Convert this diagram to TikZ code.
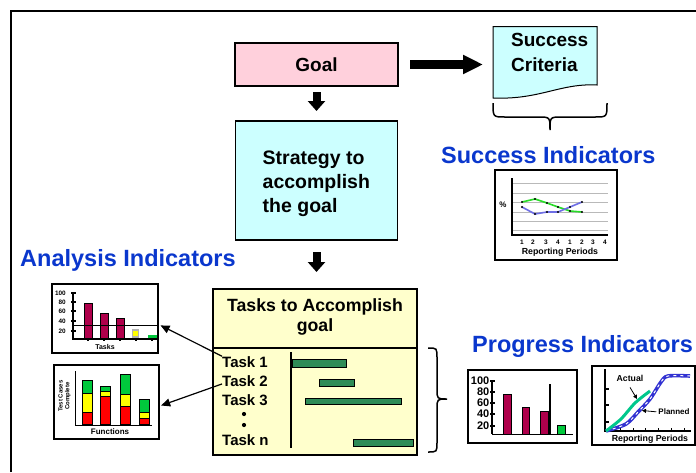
\documentclass[tikz,border=0pt]{standalone}
\usepackage{fontspec}
\setmainfont{Liberation Sans}
\usetikzlibrary{arrows.meta}
\definecolor{goalpink}{RGB}{255,208,220}
\definecolor{lcyan}{RGB}{204,255,255}
\definecolor{lyellow}{RGB}{255,255,204}
\definecolor{tblue}{RGB}{10,55,205}
\definecolor{crimson}{RGB}{175,0,75}
\definecolor{gantt}{RGB}{46,139,87}
\definecolor{cgreen}{RGB}{0,200,60}
\definecolor{cyellow}{RGB}{255,255,0}
\definecolor{cred}{RGB}{255,0,0}
\definecolor{lgreen}{RGB}{40,220,40}
\definecolor{lblue}{RGB}{110,110,230}
\definecolor{actteal}{RGB}{0,200,140}
\definecolor{pblue}{RGB}{50,50,210}
\newcommand{\fs}[1]{\fontsize{#1}{#1}\selectfont\bfseries}
\begin{document}
\begin{tikzpicture}[x=1pt,y=-1pt,
  box/.style={draw, line width=1.2pt, inner sep=0pt},
  chart/.style={draw, line width=1.5pt, fill=white, inner sep=0pt},
  bigarrow/.style={line width=9pt, -{Triangle[length=20pt,width=18pt]}},
  downarrow/.style={line width=8pt, -{Triangle[length=10pt,width=17pt]}},
  heading/.style={text=tblue, font=\fontsize{23.5}{28}\selectfont\bfseries, anchor=base west, inner sep=0pt},
  tasklbl/.style={font=\fs{15}, anchor=base west, inner sep=0pt},
  ganttbar/.style={draw, fill=gantt, line width=0.9pt},
  conn/.style={line width=1.2pt, -{Triangle[length=9pt,width=8pt]}},
  smallarr/.style={line width=0.8pt, -{Triangle[length=4pt,width=4pt]}},
  lbl/.style={inner sep=0pt},
  crbar/.style={draw=black, fill=crimson, line width=0.7pt},
  stk/.style={draw=black, line width=0.7pt}
]
\useasboundingbox (0,0) rectangle (696,472);
% outer frame
\draw[line width=2pt] (11,472) -- (11,11) -- (696,11);

% Goal
\node[box, fill=goalpink, minimum width=163pt, minimum height=43pt] (goal) at (316.5,64.5) {\fs{19}Goal};

% Success criteria document
\draw[fill=lcyan, line width=1pt] (493,26.5) -- (597,26.5) -- (597,85) .. controls (560,83) and (540,100) .. (493,98) -- cycle;
\node[align=left, anchor=north west, inner sep=0pt, font=\fontsize{19}{25}\selectfont\bfseries] (sc) at (511,33.5) {Success\\Criteria};
\coordinate (scw) at (493,64.5);
\draw[bigarrow, shorten <=11.4pt, shorten >=10pt] (goal.east) -- (scw);

% brace under success criteria
\draw[line width=1.5pt] (493,103) .. controls (493,117) .. (505,117) -- (538,117) .. controls (550,117) .. (550,130) .. controls (550,117) .. (562,117) -- (595,117) .. controls (607,117) .. (607,103);

% Strategy
\node[box, fill=lcyan, minimum width=162pt, minimum height=119pt] (strat) at (316.5,180.5) {};
\node[align=left, anchor=north west, inner sep=0pt, font=\fontsize{19.5}{24}\selectfont\bfseries] (strattext) at (262.5,150.5) {Strategy to\\accomplish\\the goal};
\draw[downarrow, shorten <=5.4pt, shorten >=9.4pt] (goal.south) -- (strat.north);

% Tasks box
\node[box, fill=lyellow, minimum width=204pt, minimum height=166pt] (tasks) at (315,372) {};
\draw[downarrow, shorten <=11.4pt, shorten >=16.4pt] (strat.south) -- (strat.south |- tasks.north);
\node[align=center, anchor=north, inner sep=0pt, font=\fontsize{17.7}{20}\selectfont\bfseries] (ttitle) at (315,298) {Tasks to Accomplish\\goal};
\draw[line width=2pt] (213,348) -- (417,348);
\draw[line width=1.5pt] (291,352) -- (291,448);
\node[tasklbl] (t1) at (222,367.3) {Task 1};
\node[tasklbl] (t2) at (222,386.3) {Task 2};
\node[tasklbl] (t3) at (222,405.3) {Task 3};
\node[tasklbl] (tn) at (222,445) {Task n};
\fill (244,414) circle (2.1);
\fill (244,425) circle (2.1);
\draw[ganttbar] (292,359) rectangle (346,367);
\draw[ganttbar] (319,379) rectangle (354,386);
\draw[ganttbar] (305,398) rectangle (401,404.5);
\draw[ganttbar] (353,439) rectangle (413,446);

% right brace
\draw[line width=1.5pt] (428,348) .. controls (437,348) .. (437,358) -- (437,389) .. controls (437,399) .. (447,399) .. controls (437,399) .. (437,409) -- (437,442) .. controls (437,452) .. (428,452);

% headings
\node[heading] (ai) at (20,266) {Analysis Indicators};
\node[heading] (si) at (441,163) {Success Indicators};
\node[heading] (pi) at (472,352.5) {Progress Indicators};

% ---------- Success chart
\node[chart, minimum width=122pt, minimum height=90pt] (sch) at (556,215) {};
\foreach \y in {183,193,202,212,221,230} \draw[gray!55, line width=0.8pt] (512,\y) -- (608,\y);
\draw[line width=1.5pt] (512,178) -- (512,235) -- (608,235);
\foreach \x in {522,533,546,558,570,582,593,605} \fill (\x-1.3,233.7) rectangle (\x+1.3,236.3);
\foreach \x/\l [count=\i] in {522/1,533/2,546/3,558/4,570/1,582/2,593/3,605/4}
  \node[lbl, font=\fs{6.5}] (sl\i) at (\x,242.5) {\l};
\node[lbl, font=\fs{8.8}] (rp1) at (560,252.5) {Reporting Periods};
\node[lbl, font=\fs{8}] (pct) at (503,205) {\%};
\draw[lgreen, line width=1.6pt] plot coordinates {(522,202) (535,199) (547,203) (558,207) (570,211) (582,212)};
\draw[lblue, line width=1.6pt] plot coordinates {(522,207) (535,214) (547,212) (558,212) (570,207) (582,202)};
\foreach \p in {(522,202),(535,199),(547,203),(558,207),(570,211),(582,212),(522,207),(535,214),(547,212),(558,212),(570,207),(582,202)}
  \fill \p circle (1.1);

% ---------- Analysis chart 1
\node[chart, minimum width=106pt, minimum height=69pt] (an1) at (105,318.5) {};
\draw[crbar] (84,303) rectangle (92,339);
\draw[crbar] (100,313) rectangle (108,339);
\draw[crbar] (116,318) rectangle (124,339);
\draw[draw=gray!60, fill=cyellow, line width=1.5pt] (132.5,330) rectangle (138.5,337);
\fill[cgreen] (148,334.5) rectangle (157,339);
\draw[line width=1pt] (73,325) -- (157,325);
\draw[line width=1.5pt] (73,293) -- (73,339) -- (157,339);
\foreach \y/\l in {293/100,302/80,311/60,321/40,331/20} {
  \fill (70.5,\y-1.3) rectangle (75.5,\y+1.3);
  \node[lbl, anchor=east, font=\fs{6.4}] (al\l) at (66,\y) {\l};
}
\foreach \x in {88,104,120,136,152} \fill (\x-1.2,337.5) rectangle (\x+1.2,341);
\node[lbl, font=\fs{7}] (tk) at (105,346.5) {Tasks};
\draw[conn, shorten >=2pt] (t1.north west) -- ([yshift=-6pt]an1.east);

% ---------- Analysis chart 2
\node[chart, minimum width=105pt, minimum height=74pt] (an2) at (106.5,402) {};
\draw[line width=0.8pt] (75,371) -- (75,425) -- (152,425);
\draw[stk, fill=cred] (82,412) rectangle (92,424);
\draw[stk, fill=cyellow] (82,393) rectangle (92,412);
\draw[stk, fill=cgreen] (82,380) rectangle (92,393);
\draw[stk, fill=cred] (100,396) rectangle (110,424);
\draw[stk, fill=cyellow] (100,391) rectangle (110,396);
\draw[stk, fill=cgreen] (100,386) rectangle (110,391);
\draw[stk, fill=cred] (120,406) rectangle (130,424);
\draw[stk, fill=cyellow] (120,394) rectangle (130,406);
\draw[stk, fill=cgreen] (120,374) rectangle (130,394);
\draw[stk, fill=cred] (139,418) rectangle (149,424);
\draw[stk, fill=cyellow] (139,412) rectangle (149,418);
\draw[stk, fill=cgreen] (139,399) rectangle (149,412);
\node[lbl, rotate=90, align=center, font=\fontsize{6}{6.8}\selectfont\bfseries] (tcc) at (64.5,396) {Test Cases\\Complete};
\node[lbl, font=\fs{8}] (fn) at (110,432) {Functions};
\draw[conn, shorten >=1.5pt] ([yshift=-3pt]t2.west) -- ([yshift=-4pt]an2.east);

% ---------- Progress chart 1
\node[chart, minimum width=109pt, minimum height=73pt] (pr1) at (522.5,406.5) {};
\draw[crbar] (503,394) rectangle (511,434);
\draw[crbar] (522,407) rectangle (529,434);
\draw[crbar] (540,411) rectangle (548,434);
\draw[draw=black, fill=cgreen, line width=0.7pt] (557,425) rectangle (565,434);
\draw[line width=1.5pt] (550,384) -- (550,434);
\draw[line width=1.5pt] (492,380) -- (492,434);
\draw[line width=1pt] (492,434) -- (573,434);
\foreach \y/\l in {381/100,392/80,403/60,414/40,426/20} {
  \draw[line width=1.5pt] (490,\y) -- (495,\y);
  \node[lbl, anchor=east, font=\fs{11}] (pl\l) at (489.5,\y) {\l};
}

% ---------- Progress chart 2
\node[chart, minimum width=103pt, minimum height=79pt] (pr2) at (643.5,405.5) {};
\draw[line width=1.2pt] (605,369) -- (605,431) -- (691,431);
\foreach \y in {389,405,422} \draw[line width=1.2pt] (605,\y) -- (608.5,\y);
\foreach \x in {620,633,645,658,671,684} \draw[line width=1pt] (\x,431) -- (\x,428);
\draw[pblue, line width=3.6pt] plot[smooth, tension=0.5] coordinates {(606,431) (626,424) (638,412) (650,399) (661,382) (668,376) (690,376)};
\draw[white, line width=1pt, dash pattern=on 3pt off 4pt] plot[smooth, tension=0.5] coordinates {(606,431) (626,424) (638,412) (650,399) (661,382) (668,376) (690,376)};
\draw[actteal, line width=3pt] plot[smooth, tension=0.5] coordinates {(606,431) (621,419) (635,403) (650,391)};
\node[lbl, font=\fs{8.7}] (act) at (630,378) {Actual};
\node[lbl, font=\fs{8}] (pln) at (674,412) {Planned};
\coordinate (actpt) at (637,399);
\coordinate (plnpt) at (642,410.5);
\draw[smallarr] ([yshift=-6pt]act.south) -- (actpt);
\draw[smallarr, shorten <=2pt] (pln.west) -- (plnpt);
\node[lbl, font=\fs{8.8}] (rp2) at (650,439.5) {Reporting Periods};
\end{tikzpicture}
\end{document}
